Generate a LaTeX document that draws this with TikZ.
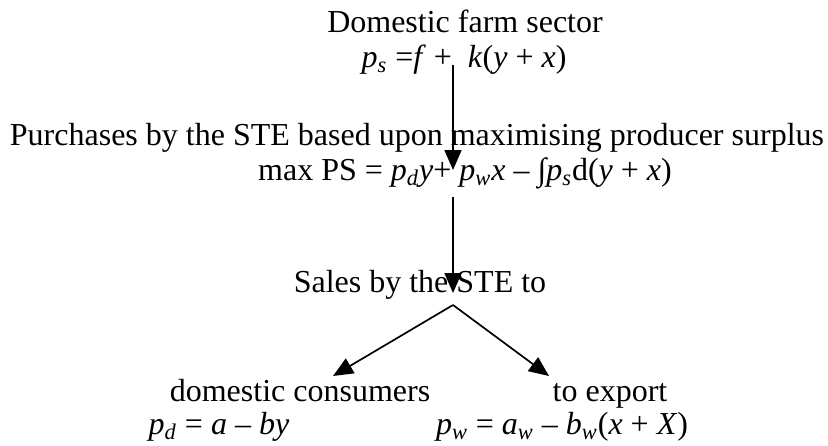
\documentclass[tikz,border=0pt]{standalone}
\usepackage{fontspec}
\setmainfont{Liberation Serif}
\usetikzlibrary{positioning, calc, arrows.meta}
\newcommand{\vr}[1]{\textit{#1}}
\newcommand{\low}[1]{\textsubscript{\textit{#1}}}
\tikzset{
    txt/.style={inner sep=0pt, anchor=base, font=\fontsize{16}{19}\selectfont},
    flow/.style={line width=0.85pt, -{Triangle[length=10pt,width=8.5pt]}}
}

\begin{document}
\begin{tikzpicture}[x=0.5pt, y=-0.5pt]
            \useasboundingbox (0,0) rectangle (828,445);
            % supply side
            \node[txt] (farm) at (465,32) {Domestic farm sector};
            \node[txt] (supply) at (464,67) {\vr{p}\low{s} =\vr{f} +\enspace\vr{k}(\vr{y} + \vr{x})};
            % the STE
            \node[txt] (buy) at (417,145) {Purchases by the STE based upon maximising producer surplus};
            \node[txt] (maxps) at (465,180) {max PS = \vr{p}\low{d}\vr{y}+ \vr{p}\low{w}\vr{x} – ∫\vr{p}\low{s}d(\vr{y} + \vr{x})};
            \node[txt] (sell) at (420,292) {Sales by the STE to};
            % demand side
            \node[txt] (cons) at (300,401) {domestic consumers};
            \node[txt] (exp) at (610,401) {to export};
            \node[txt] (dem) at (219,434) {\vr{p}\low{d} = \vr{a} – \vr{by}};
            \node[txt] (world) at (562,434) {\vr{p}\low{w} = \vr{a}\low{w} – \vr{b}\low{w}(\vr{x} + \vr{X})};
            \coordinate (s1) at (453,65);
            \coordinate (t1) at (453,170);
            \coordinate (s2) at (453,197);
            \coordinate (t2) at (453,293);
            \coordinate (split) at (453,305);
            \coordinate (tcons) at (333,376);
            \coordinate (texp) at (549,376);
            \draw[flow] (s1) -- (t1);
            \draw[flow] (s2) -- (t2);
            \draw[flow] (split) -- (tcons);
            \draw[flow] (split) -- (texp);
        \end{tikzpicture}
\end{document}
